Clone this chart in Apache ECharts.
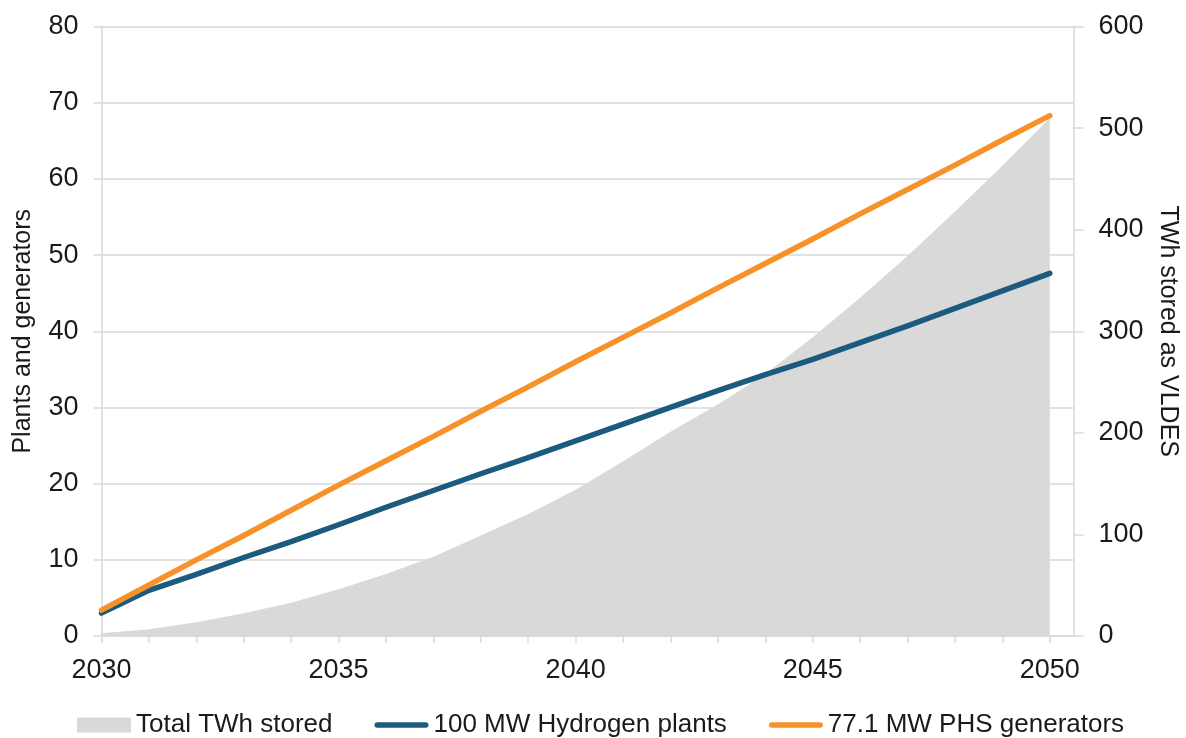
<!DOCTYPE html>
<html>
<head>
<meta charset="utf-8">
<title>Plants, generators and TWh stored as VLDES</title>
<script src="https://cdn.jsdelivr.net/npm/echarts@6/dist/echarts.min.js"></script>
<style>
  html, body { margin: 0; padding: 0; background: #ffffff; }
  #chart { width: 1186px; height: 738px; }
</style>
</head>
<body>
<div id="chart"></div>
<script>
// Years on the horizontal axis
const years = [2030, 2031, 2032, 2033, 2034, 2035, 2036, 2037, 2038, 2039, 2040,
               2041, 2042, 2043, 2044, 2045, 2046, 2047, 2048, 2049, 2050];

// Total TWh stored as VLDES (right axis)
const totalTWhStored = [2.6, 6.6, 13.5, 22.3, 32.8, 45.9, 61, 78, 99, 120, 144,
                        172, 201, 228, 258, 294, 333, 374, 418, 463, 510];

// Number of 100 MW hydrogen plants (left axis)
const hydrogenPlants = [3.0, 6.0, 8.1, 10.3, 12.4, 14.6, 16.9, 19.1, 21.3, 23.4, 25.6,
                        27.8, 30.0, 32.2, 34.3, 36.3, 38.5, 40.7, 43.0, 45.3, 47.6];

// Number of 77.1 MW PHS generators (left axis)
const phsGenerators = [3.4, 6.7, 10.0, 13.2, 16.5, 19.8, 23.0, 26.2, 29.5, 32.7, 36.0,
                       39.2, 42.4, 45.7, 48.9, 52.1, 55.4, 58.6, 61.8, 65.1, 68.3];

const seriesNames = ['Total TWh stored', '100 MW Hydrogen plants', '77.1 MW PHS generators'];
const yearLabelStep = 5;

const toPairs = (vals) => years.map((y, i) => [y, vals[i]]);

const GRID = '#d9d9d9';
const TEXT = '#1a1a1a';
const AREA = '#d9d9d9';
const BLUE = '#1d5b7e';
const ORANGE = '#f7912a';
const FONT = '"Liberation Sans", Arial, sans-serif';

// Thick rounded bar used as the legend key of the two line series
const LINE_KEY = 'path://M3,0 L55,0 A3,3 0 0 1 55,6 L3,6 A3,3 0 0 1 3,0 Z';

const chart = echarts.init(document.getElementById('chart'), null, { renderer: 'canvas' });

chart.setOption({
  animation: false,
  backgroundColor: '#ffffff',
  textStyle: { fontFamily: FONT, color: TEXT },
  grid: {
    left: 101.5,
    right: 112.5,
    top: 26.5,
    bottom: 102,
    containLabel: false,
    outerBoundsMode: 'none'
  },
  legend: {
    left: 77,
    top: 712,
    padding: 0,
    itemWidth: 54,
    itemHeight: 15,
    itemGap: 42,
    selectedMode: false,
    textStyle: { fontFamily: FONT, fontSize: 26, color: TEXT },
    data: [
      { name: seriesNames[0], icon: 'rect', itemStyle: { color: AREA, borderWidth: 0 } },
      { name: seriesNames[1], icon: LINE_KEY, itemStyle: { color: BLUE, borderWidth: 0 } },
      { name: seriesNames[2], icon: LINE_KEY, itemStyle: { color: ORANGE, borderWidth: 0 } }
    ]
  },
  xAxis: {
    type: 'value',
    min: 2030,
    max: 2050.5,
    interval: 1,
    axisLine: { show: true, lineStyle: { color: GRID, width: 1.5 } },
    axisTick: { show: true, inside: false, length: 7, lineStyle: { color: GRID, width: 1.5 } },
    axisLabel: {
      margin: 21,
      fontFamily: FONT,
      fontSize: 27,
      color: TEXT,
      showMaxLabel: false,
      formatter: (v) => (Number.isInteger(v) && v % yearLabelStep === 0) ? String(v) : ''
    },
    splitLine: { show: false }
  },
  yAxis: [
    {
      type: 'value',
      position: 'left',
      min: 0,
      max: 80,
      interval: 10,
      name: 'Plants and generators',
      nameLocation: 'middle',
      nameGap: 66,
      nameTextStyle: { fontFamily: FONT, fontSize: 25, color: TEXT },
      axisLine: { show: true, lineStyle: { color: GRID, width: 1.5 } },
      axisTick: { show: true, inside: false, length: 8, lineStyle: { color: GRID, width: 1.5 } },
      axisLabel: { margin: 23, fontFamily: FONT, fontSize: 27, color: TEXT },
      splitLine: { show: true, lineStyle: { color: GRID, width: 1.5 } }
    },
    {
      type: 'value',
      position: 'right',
      min: 0,
      max: 600,
      interval: 100,
      name: 'TWh stored as VLDES',
      nameLocation: 'middle',
      nameRotate: -90,
      nameGap: 82,
      nameTextStyle: { fontFamily: FONT, fontSize: 25, color: TEXT },
      axisLine: { show: true, lineStyle: { color: GRID, width: 1.5 } },
      axisTick: { show: true, inside: false, length: 10, lineStyle: { color: GRID, width: 1.5 } },
      axisLabel: { margin: 25, fontFamily: FONT, fontSize: 27, color: TEXT },
      splitLine: { show: false }
    }
  ],
  series: [
    {
      name: seriesNames[0],
      type: 'line',
      yAxisIndex: 1,
      data: toPairs(totalTWhStored),
      symbol: 'none',
      showSymbol: false,
      smooth: false,
      itemStyle: { color: AREA },
      lineStyle: { width: 0, color: AREA },
      areaStyle: { color: AREA, opacity: 1 },
      z: 1
    },
    {
      name: seriesNames[1],
      type: 'line',
      yAxisIndex: 0,
      data: toPairs(hydrogenPlants),
      symbol: 'none',
      showSymbol: false,
      itemStyle: { color: BLUE },
      lineStyle: { width: 5.5, color: BLUE, cap: 'round', join: 'round' },
      z: 3
    },
    {
      name: seriesNames[2],
      type: 'line',
      yAxisIndex: 0,
      data: toPairs(phsGenerators),
      symbol: 'none',
      showSymbol: false,
      itemStyle: { color: ORANGE },
      lineStyle: { width: 5.5, color: ORANGE, cap: 'round', join: 'round' },
      z: 4
    }
  ]
});
</script>
</body>
</html>
